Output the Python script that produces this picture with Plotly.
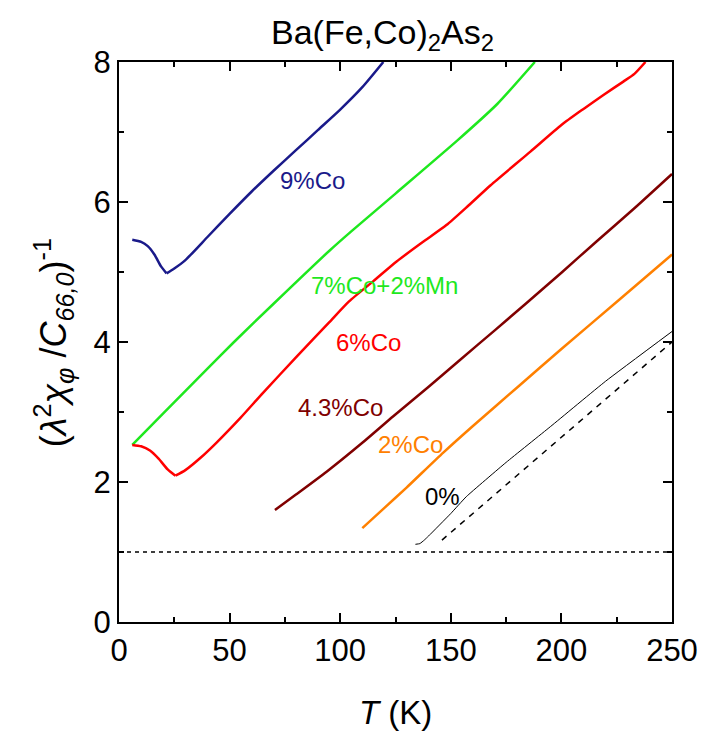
import numpy as np
import plotly.graph_objects as go

# Inverse nematic susceptibility vs temperature, Ba(Fe,Co)2As2 series
t_9co = [6, 10, 13, 16, 19, 21.5, 25, 30, 40, 50, 60, 70, 80, 90, 100, 110, 119.5]
y_9co = [5.46, 5.43, 5.37, 5.25, 5.08, 4.98, 5.05, 5.17, 5.5, 5.83, 6.15, 6.45, 6.74, 7.03, 7.32, 7.64, 8.0]

t_7co2mn = [6, 20, 40, 52, 70, 95, 105, 125, 153, 171, 188]
y_7co2mn = [2.53, 2.98, 3.62, 4.0, 4.55, 5.3, 5.58, 6.12, 6.88, 7.4, 8.0]

t_6co = [6, 10, 14, 18, 22, 25.5, 30, 37, 44, 55, 65, 80, 95, 104, 115, 125.5, 137, 148,
         158, 168, 186, 200, 210, 219, 228, 233, 238]
y_6co = [2.53, 2.51, 2.45, 2.33, 2.18, 2.09, 2.17, 2.35, 2.56, 2.92, 3.27, 3.78, 4.28, 4.58,
         4.87, 5.15, 5.42, 5.67, 5.95, 6.24, 6.72, 7.1, 7.33, 7.53, 7.72, 7.83, 8.0]

t_43co = [70.5, 80, 94, 110, 124, 140, 154, 170, 184, 200, 216, 233, 250]
y_43co = [1.6, 1.82, 2.15, 2.56, 2.94, 3.36, 3.74, 4.17, 4.55, 4.99, 5.44, 5.91, 6.4]

t_2co = [110, 120, 130, 146.6, 160, 180, 200, 226, 250]
y_2co = [1.34, 1.63, 1.92, 2.42, 2.8, 3.35, 3.9, 4.6, 5.25]

t_0 = [134, 136, 138, 140, 150, 157, 175, 195, 220, 250]
y_0 = [1.11, 1.12, 1.17, 1.23, 1.55, 1.79, 2.28, 2.79, 3.44, 4.15]

t_0_fit = [146, 200, 250]
y_0_fit = [1.17, 2.64, 4.0]

t_ref = [0, 250]
y_ref = [1.0, 1.0]

labels = ["9%Co", "7%Co+2%Mn", "6%Co", "4.3%Co", "2%Co", "0%"]
label_t = [87.5, 119.8, 112.6, 100.0, 131.8, 146.2]
label_y = [6.31, 4.81, 4.0, 3.06, 2.53, 1.8]

colors = ["#1a1a8a", "#1ee81e", "#ff0000", "#800000", "#ff8000", "#000000"]

FONT = "Liberation Sans, Arial, sans-serif"

fig = go.Figure()

fig.add_trace(go.Scatter(x=t_ref, y=y_ref, mode="lines",
                         line=dict(color="black", width=1.5, dash="4px,4px")))
fig.add_trace(go.Scatter(x=t_0_fit, y=y_0_fit, mode="lines",
                         line=dict(color="black", width=1.5, dash="6px,6px")))


def add_curve(tx, ty, color, width):
    # curves with a cusp at the minimum are smoothed on each side separately
    tx, ty = list(tx), list(ty)
    k = int(np.argmin(ty))
    pieces = [(tx[:k + 1], ty[:k + 1]), (tx[k:], ty[k:])] if 0 < k < len(ty) - 1 else [(tx, ty)]
    for px, py in pieces:
        fig.add_trace(go.Scatter(x=px, y=py, mode="lines",
                                 line=dict(color=color, width=width, shape="spline", smoothing=0.6)))


series = [(t_9co, y_9co), (t_7co2mn, y_7co2mn), (t_6co, y_6co),
          (t_43co, y_43co), (t_2co, y_2co)]
for (tx, ty), c in zip(series, colors[:5]):
    add_curve(tx, ty, c, 2.5)
fig.add_trace(go.Scatter(x=t_0, y=y_0, mode="lines",
                         line=dict(color="black", width=1, shape="spline", smoothing=0.4)))

for txt, lx, ly, c in zip(labels, label_t, label_y, colors):
    fig.add_annotation(x=lx, y=ly, text=txt, showarrow=False,
                       font=dict(family=FONT, size=24, color=c),
                       xanchor="center", yanchor="middle")

fig.add_annotation(x=0.476, y=1.0, xref="paper", yref="paper", yshift=28,
                   text="Ba(Fe,Co)<sub>2</sub>As<sub>2</sub>", showarrow=False,
                   font=dict(family=FONT, size=34, color="black"),
                   xanchor="center", yanchor="middle")

fig.add_annotation(x=0.5, y=-0.161, xref="paper", yref="paper",
                   text="<i>T</i> (K)", showarrow=False,
                   font=dict(family=FONT, size=33, color="black"),
                   xanchor="center", yanchor="middle")

fig.add_annotation(x=-0.119, y=0.498, xref="paper", yref="paper", textangle=-90,
                   text="(<i>λ</i><sup>2</sup><i>χ<sub>φ</sub></i> /<i>C</i><sub><i>66,0</i></sub>)<sup>-1</sup>",
                   showarrow=False,
                   font=dict(family=FONT, size=36, color="black"),
                   xanchor="center", yanchor="middle")

axis_common = dict(showline=True, linecolor="black", linewidth=2, mirror="allticks",
                   ticks="inside", ticklen=9, tickwidth=1.5, tickcolor="black",
                   showgrid=False, zeroline=False, automargin=False,
                   tickfont=dict(family=FONT, size=31, color="black"))

fig.update_xaxes(range=[0, 250], dtick=50, tick0=0,
                 minor=dict(ticks="inside", dtick=25, ticklen=5, tickwidth=1.5,
                            tickcolor="black", showgrid=False),
                 **axis_common)
fig.update_yaxes(range=[0, 8], dtick=2, tick0=0,
                 minor=dict(ticks="inside", dtick=1, ticklen=5, tickwidth=1.5,
                            tickcolor="black", showgrid=False),
                 **axis_common)

fig.update_layout(width=702, height=732,
                  margin=dict(l=119, r=30, t=62, b=110, autoexpand=False),
                  paper_bgcolor="white", plot_bgcolor="white",
                  showlegend=False)

fig.write_html("out.html")
